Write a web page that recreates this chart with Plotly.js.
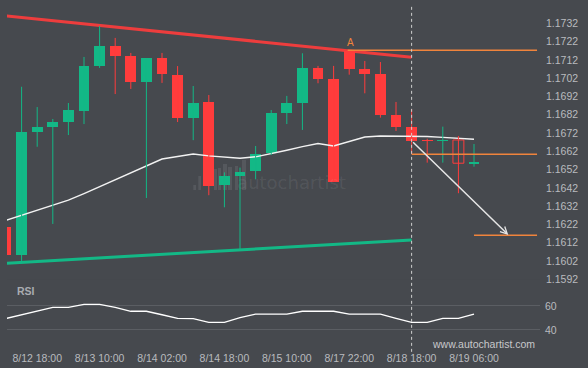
<!DOCTYPE html>
<html><head><meta charset="utf-8">
<script src="https://cdn.plot.ly/plotly-3.0.1.min.js"></script>
<style>html,body{margin:0;padding:0;background:#46494e;}#chart{width:588px;height:368px;}</style>
</head><body><div id="chart"></div>
<script>
// 4h candles, index 0..30
const opens  = [1.16206,1.16055,1.16727,1.16755,1.16782,1.16841,1.17087,1.17196,1.17141,1.16999,1.17130,1.17037,1.16802,1.16890,1.16436,1.16487,1.16514,1.16609,1.16831,1.16886,1.17076,1.17015,1.17170,1.17070,1.17043,1.16819,1.16751,1.16682,1.16677,1.16682,1.16549];
const highs  = [1.16223,1.16973,1.16862,1.16797,1.16884,1.17136,1.17305,1.17240,1.17158,1.17130,1.17158,1.17086,1.16977,1.16928,1.16505,1.16531,1.16649,1.16846,1.16923,1.17156,1.17087,1.17087,1.17174,1.17114,1.17108,1.16890,1.16850,1.16689,1.16755,1.16704,1.16660];
const lows   = [1.16042,1.16013,1.16645,1.16223,1.16709,1.16769,1.17076,1.16933,1.16961,1.16365,1.16994,1.16780,1.16681,1.16380,1.16314,1.16084,1.16467,1.16600,1.16769,1.16737,1.16992,1.16452,1.17039,1.16937,1.16804,1.16731,1.16605,1.16558,1.16558,1.16391,1.16536];
const closes = [1.16055,1.16726,1.16753,1.16780,1.16846,1.17087,1.17196,1.17141,1.16999,1.17130,1.17043,1.16802,1.16884,1.16432,1.16487,1.16507,1.16605,1.16830,1.16884,1.17076,1.17015,1.16454,1.17070,1.17043,1.16819,1.16753,1.16678,1.16677,1.16681,1.16555,1.16560];
const maValues = [1.16243,1.16270,1.16298,1.16325,1.16353,1.16389,1.16427,1.16464,1.16502,1.16540,1.16578,1.16592,1.16605,1.16595,1.16589,1.16582,1.16590,1.16607,1.16626,1.16646,1.16663,1.16649,1.16673,1.16698,1.16704,1.16704,1.16704,1.16701,1.16696,1.16690,1.16686];
const rsiValues = [49.6,52.5,55.4,58.9,58.9,61.4,61.4,58.9,55.6,55.6,52.7,49.75,49.4,46.4,46.4,50.25,53.3,53.3,53.3,55.6,55.6,55.6,53.3,53.3,53.3,49.7,46.4,46.4,49.75,49.75,53.3];
const tickIndex  = [2,6,10,14,18,22,26,30];
const tickLabels = ['8/12 18:00','8/13 10:00','8/14 02:00','8/14 18:00','8/15 10:00','8/17 22:00','8/18 18:00','8/19 06:00'];
const priceTicks = [1.1592,1.1602,1.1612,1.1622,1.1632,1.1642,1.1652,1.1662,1.1672,1.1682,1.1692,1.1702,1.1712,1.1722,1.1732,1.1742];
const rsiTicks = [40,60];
const hollowCandles = [29];
const resistanceX = [0,26], resistanceY = [1.17361,1.17134];
const supportX = [0,26], supportY = [1.16008,1.16135];
const levelA = 1.17172, levelAStart = 21.9;
const levelB = 1.16604, levelBStart = 26;
const targetLevel = 1.16161, targetStart = 30;
const patternEnd = 26;
const forecastFrom = [26, 1.16678], forecastTo = [32.2, 1.16163];
const xEnd = 34.04;

const GREEN = '#13b886', RED = '#ff3c3c', ORANGE = '#f0843c';
const idx = opens.map((_, i) => i);

function bodyTrace(filter, color, hollow) {
  const xs = [], base = [], len = [];
  idx.forEach(i => {
    if (!filter(i)) return;
    xs.push(i);
    base.push(Math.min(opens[i], closes[i]));
    len.push(Math.max(Math.abs(closes[i] - opens[i]), 0.00004));
  });
  return {type:'bar', x:xs, y:len, base:base, width:0.7, xaxis:'x', yaxis:'y',
    marker:{color: hollow ? 'rgba(0,0,0,0)' : color, line:{color:color, width: hollow ? 1 : 0}},
    hoverinfo:'skip'};
}
function wickTrace(filter, color) {
  const xs = [], ys = [];
  idx.forEach(i => { if (!filter(i)) return; xs.push(i, i, null); ys.push(lows[i], highs[i], null); });
  return {type:'scatter', mode:'lines', x:xs, y:ys, line:{color:color, width:1}, xaxis:'x', yaxis:'y', hoverinfo:'skip'};
}
const isUp = i => closes[i] >= opens[i];
const isHollow = i => hollowCandles.includes(i);

const traces = [
  {type:'scatter', mode:'text', x:[18.3], y:[1.16441], text:['autochartist'], textposition:'middle center',
   textfont:{family:'DejaVu Sans', size:18, color:'rgba(255,255,255,0.085)'}, xaxis:'x', yaxis:'y', hoverinfo:'skip'},
  {type:'scatter', mode:'lines', x:resistanceX, y:resistanceY, line:{color:'rgba(255,60,60,0.9)', width:3}, xaxis:'x', yaxis:'y', hoverinfo:'skip'},
  {type:'scatter', mode:'lines', x:supportX, y:supportY, line:{color:GREEN, width:3}, xaxis:'x', yaxis:'y', hoverinfo:'skip'},
  {type:'scatter', mode:'lines', x:idx, y:maValues, line:{color:'#f2f2f2', width:1.4}, xaxis:'x', yaxis:'y', hoverinfo:'skip'},
  wickTrace(i => isUp(i), GREEN),
  wickTrace(i => !isUp(i), RED),
  bodyTrace(i => isUp(i) && !isHollow(i), GREEN, false),
  bodyTrace(i => !isUp(i) && !isHollow(i), RED, false),
  bodyTrace(i => isHollow(i), RED, true),
  {type:'scatter', mode:'lines', x:[levelAStart, xEnd], y:[levelA, levelA], line:{color:ORANGE, width:1.5}, xaxis:'x', yaxis:'y', hoverinfo:'skip'},
  {type:'scatter', mode:'lines', x:[levelBStart, xEnd], y:[levelB, levelB], line:{color:ORANGE, width:1.5}, xaxis:'x', yaxis:'y', hoverinfo:'skip'},
  {type:'scatter', mode:'lines', x:[targetStart, xEnd], y:[targetLevel, targetLevel], line:{color:ORANGE, width:1.5}, xaxis:'x', yaxis:'y', hoverinfo:'skip'},
  {type:'scatter', mode:'lines', x:idx, y:rsiValues, line:{color:'#ffffff', width:1.3}, xaxis:'x', yaxis:'y2', hoverinfo:'skip'}
];

const logoBars = [[0.3495,0.3546,0.4669],[0.3589,0.3640,0.4928],[0.3884,0.3940,0.5130],[0.3959,0.4015,0.5159],[0.4053,0.4128,0.5274],[0.4146,0.4221,0.5187],[0.4278,0.4334,0.5216],[0.4409,0.4484,0.5389]];
const shapes = logoBars.map(b => ({type:'rect', xref:'paper', yref:'paper', x0:b[0], x1:b[1], y0:0.4524, y1:b[2], fillcolor:'rgba(255,255,255,0.085)', line:{width:0}, layer:'below'}));
shapes.push({type:'line', xref:'x', yref:'paper', x0:patternEnd, x1:patternEnd, y0:-0.014, y1:0.988, line:{color:'#cfcfcf', width:1, dash:'3px,3px'}});

const layout = {
  width:588, height:368,
  paper_bgcolor:'#46494e', plot_bgcolor:'#46494e',
  margin:{l:7, r:48, t:0, b:21},
  showlegend:false, barmode:'overlay', bargap:0,
  font:{family:'Liberation Sans, Arial, sans-serif', color:'#b9bbbf', size:10.5},
  xaxis:{range:[0.064, 34.23], anchor:'y2', tickmode:'array', tickvals:tickIndex, ticktext:tickLabels,
    showgrid:false, zeroline:false, showline:false, ticks:'', ticklabelstandoff:3, fixedrange:true},
  yaxis:{domain:[0.1787, 1], range:[1.158892, 1.174473], side:'right', anchor:'x', tickmode:'array', tickvals:priceTicks,
    ticktext:priceTicks.map(v => v.toFixed(4)), showgrid:false, zeroline:false, ticks:'', ticklabelstandoff:5, fixedrange:true},
  yaxis2:{domain:[0, 0.1931], range:[25.83, 81.67], side:'right', anchor:'x', tickmode:'array', tickvals:rsiTicks,
    showgrid:true, gridcolor:'#5b5e63', gridwidth:1, zeroline:false, ticks:'', ticklabelstandoff:4, fixedrange:true},
  shapes:shapes,
  annotations:[
    {x:forecastTo[0], y:forecastTo[1], ax:forecastFrom[0], ay:forecastFrom[1], xref:'x', yref:'y', axref:'x', ayref:'y',
     showarrow:true, text:'', arrowhead:5, arrowsize:0.9, arrowwidth:1.5, arrowcolor:'#e6e6e6', standoff:0},
    {x:levelAStart + 0.2, y:levelA, xref:'x', yref:'y', text:'A', showarrow:false, yanchor:'bottom', yshift:0,
     font:{size:10, color:ORANGE}},
    {x:(15 - 7) / 533, y:(347 - 291) / 347, xref:'paper', yref:'paper', xanchor:'left', yanchor:'middle', text:'<b>RSI</b>', showarrow:false,
     font:{size:10.5, color:'#a9acb1'}},
    {x:(483 - 7) / 533, y:(347 - 344) / 347, xref:'paper', yref:'paper', xanchor:'center', yanchor:'middle',
     text:'www.autochartist.com', showarrow:false, font:{size:10.5, color:'#c6c8cb'}}
  ]
};

Plotly.newPlot('chart', traces, layout, {staticPlot:true, displayModeBar:false});
</script></body></html>
